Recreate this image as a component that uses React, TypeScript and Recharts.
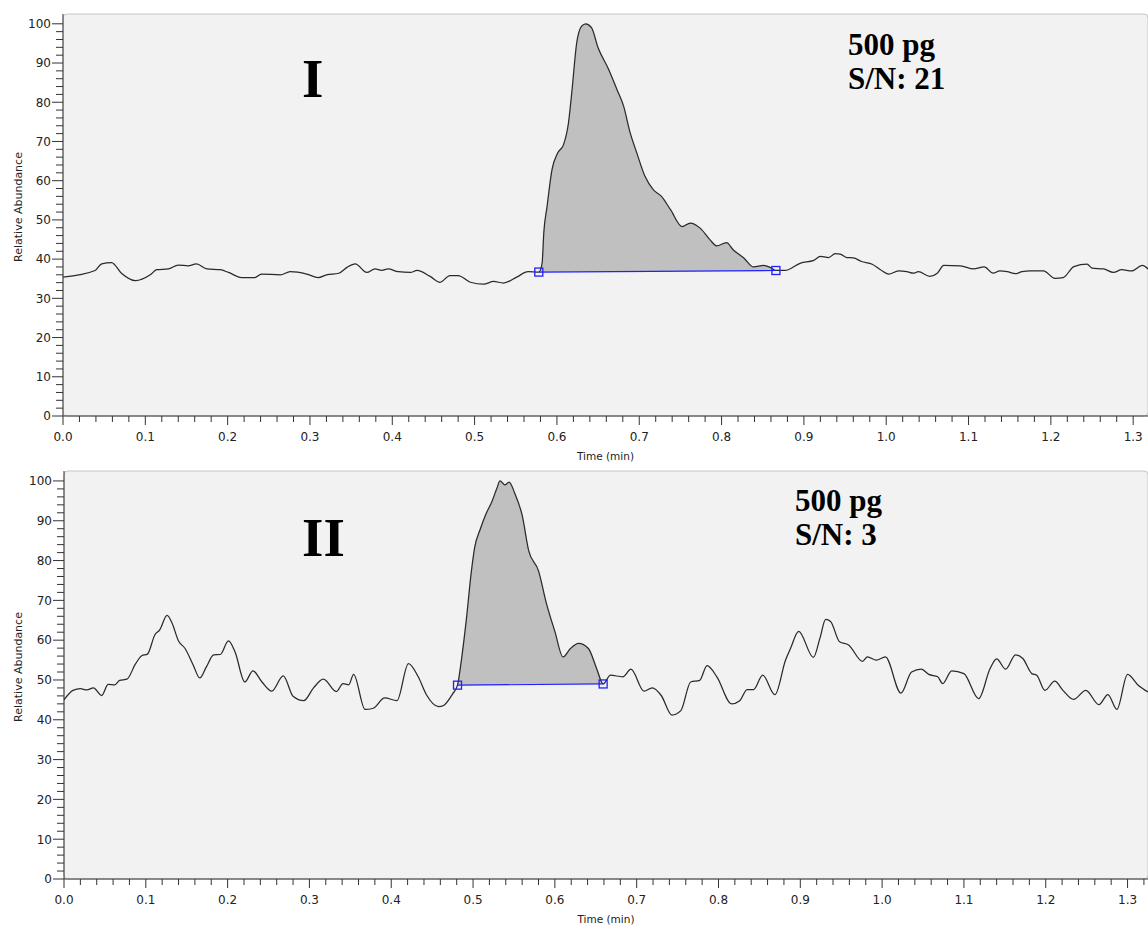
import React from "react";
import {
  ComposedChart,
  Line,
  Area,
  XAxis,
  YAxis,
  CartesianGrid,
  ReferenceArea,
} from "recharts";

// chromatogram I (time in min, relative abundance in %)
const TIME_I = [
  0, 0.039, 0.047, 0.059, 0.071, 0.088, 0.106, 0.114, 0.128, 0.14, 0.152, 0.162,
  0.175, 0.191, 0.201, 0.217, 0.233, 0.241, 0.264, 0.276, 0.296, 0.31, 0.32,
  0.335, 0.345, 0.355, 0.369, 0.379, 0.387, 0.395, 0.407, 0.422, 0.43, 0.446,
  0.458, 0.47, 0.48, 0.495, 0.511, 0.523, 0.535, 0.551, 0.565, 0.578, 0.582,
  0.584, 0.588, 0.594, 0.601, 0.608, 0.614, 0.618, 0.624, 0.63, 0.635, 0.642,
  0.65, 0.663, 0.673, 0.681, 0.689, 0.697, 0.707, 0.717, 0.727, 0.738, 0.752,
  0.762, 0.774, 0.786, 0.794, 0.806, 0.814, 0.827, 0.839, 0.851, 0.859, 0.866,
  0.877, 0.896, 0.912, 0.92, 0.93, 0.938, 0.944, 0.952, 0.96, 0.97, 0.983,
  0.993, 1.003, 1.015, 1.025, 1.033, 1.039, 1.053, 1.062, 1.07, 1.09, 1.106,
  1.119, 1.13, 1.138, 1.147, 1.157, 1.165, 1.175, 1.191, 1.205, 1.215, 1.228,
  1.244, 1.25, 1.264, 1.276, 1.286, 1.298, 1.311, 1.318,
];
const ABUNDANCE_I = [
  35.4, 37.1, 38.8, 39.1, 36.4, 34.5, 36.0, 37.3, 37.5, 38.5, 38.3, 38.8, 37.5,
  37.3, 36.6, 35.3, 35.3, 36.2, 36.0, 36.8, 36.2, 35.3, 36.0, 36.4, 37.9, 38.8,
  36.6, 37.5, 37.1, 37.5, 36.8, 36.6, 37.1, 35.6, 34.1, 35.8, 35.8, 34.1, 33.6,
  34.3, 33.9, 35.4, 36.8, 36.7, 39.0, 46.6, 53.4, 62.8, 67.1, 69.2, 74.7, 82.4,
  95.1, 99.4, 100, 99.0, 93.9, 88.3, 83.2, 79.0, 72.2, 67.1, 61.1, 57.7, 56.0,
  52.6, 48.3, 49.2, 47.9, 44.9, 43.4, 44.2, 42.4, 40.3, 38.0, 38.4, 37.9, 37.1,
  37.1, 39.0, 39.7, 40.7, 40.4, 41.4, 41.3, 40.4, 40.3, 39.4, 38.7, 37.3, 36.2,
  37.0, 36.8, 36.4, 36.8, 35.6, 36.4, 38.4, 38.3, 37.5, 38.0, 36.4, 37.0, 36.8,
  36.3, 36.8, 37.0, 37.0, 35.1, 35.3, 38.1, 38.7, 37.7, 37.5, 36.6, 37.3, 37.0,
  38.4, 37.5,
];
const PEAK_I = [0.578, 0.866];
const PEAK_BASE_I = [36.7, 37.1];

// chromatogram II
const TIME_II = [
  0, 0.011, 0.02, 0.028, 0.036, 0.046, 0.054, 0.062, 0.068, 0.077, 0.087, 0.095,
  0.102, 0.111, 0.117, 0.126, 0.132, 0.14, 0.148, 0.158, 0.166, 0.174, 0.183,
  0.191, 0.201, 0.209, 0.221, 0.231, 0.242, 0.254, 0.268, 0.28, 0.293, 0.305,
  0.317, 0.333, 0.341, 0.348, 0.354, 0.368, 0.378, 0.392, 0.407, 0.421, 0.433,
  0.443, 0.458, 0.464, 0.475, 0.481, 0.486, 0.492, 0.498, 0.502, 0.509, 0.516,
  0.523, 0.529, 0.533, 0.539, 0.544, 0.551, 0.56, 0.568, 0.58, 0.59, 0.6, 0.61,
  0.619, 0.629, 0.641, 0.651, 0.659, 0.668, 0.683, 0.693, 0.709, 0.719, 0.73,
  0.743, 0.754, 0.766, 0.777, 0.786, 0.798, 0.816, 0.826, 0.835, 0.843, 0.854,
  0.869, 0.882, 0.888, 0.898, 0.916, 0.924, 0.931, 0.937, 0.948, 0.959, 0.976,
  0.982, 0.993, 1.004, 1.023, 1.036, 1.048, 1.057, 1.068, 1.074, 1.085, 1.1,
  1.118, 1.132, 1.14, 1.151, 1.163, 1.172, 1.183, 1.189, 1.199, 1.211, 1.221,
  1.234, 1.249, 1.265, 1.276, 1.287, 1.3, 1.313, 1.325,
];
const ABUNDANCE_II = [
  45.0, 47.4, 47.8, 47.5, 48.0, 46.1, 48.9, 48.8, 49.9, 50.2, 53.9, 56.1, 56.5,
  61.3, 62.6, 66.2, 64.3, 59.8, 57.9, 53.7, 50.5, 53.3, 56.3, 56.4, 59.8, 57.1,
  49.5, 52.3, 49.5, 47.2, 51.0, 45.9, 44.8, 48.0, 50.2, 47.1, 49.1, 48.8, 51.4,
  42.6, 42.9, 45.5, 44.8, 54.1, 50.8, 46.3, 43.3, 43.6, 46.5, 48.7, 55.4, 65.6,
  77.4, 83.3, 88.0, 91.8, 94.8, 98.1, 100, 99.0, 99.7, 96.9, 91.4, 82.5, 77.4,
  69.0, 62.2, 55.8, 57.9, 59.2, 57.9, 52.9, 49.0, 51.2, 50.8, 52.7, 47.2, 48.0,
  46.1, 41.2, 42.3, 49.5, 49.9, 53.6, 50.8, 44.0, 44.8, 47.6, 47.6, 51.2, 46.3,
  55.0, 57.9, 62.2, 55.7, 60.5, 65.2, 64.7, 59.6, 58.8, 54.7, 55.8, 55.0, 55.8,
  46.7, 52.0, 52.7, 51.4, 50.8, 49.1, 52.3, 51.6, 45.3, 52.9, 55.3, 52.7, 56.3,
  55.4, 51.6, 51.2, 47.4, 49.7, 47.4, 45.1, 47.4, 43.8, 46.3, 42.6, 51.4, 48.7,
  47.0,
];
const PEAK_II = [0.481, 0.659];
const PEAK_BASE_II = [48.7, 49.0];

const X_MAJOR_TICKS = [0, 0.1, 0.2, 0.3, 0.4, 0.5, 0.6, 0.7, 0.8, 0.9, 1.0, 1.1, 1.2, 1.3];
const Y_MAJOR_TICKS = [0, 10, 20, 30, 40, 50, 60, 70, 80, 90, 100];

const AXIS_FONT = "'DejaVu Sans', Verdana, sans-serif";
const TITLE_FONT = "'Liberation Serif', 'Times New Roman', serif";
const AXIS_COLOR = "#333";
const Y_TOP = 102.5;

// minor ticks: 5 per major interval
function withMinor(majors: number[], step: number, max: number) {
  const out: number[] = [];
  majors.forEach((m) => {
    for (let k = 0; k < 5; k++) {
      const v = Number((m + k * step).toFixed(3));
      if (v <= max) out.push(v);
    }
  });
  return out;
}

function buildRows(time: number[], values: number[], peak: number[], base: number[]) {
  return time.map((t, i) => {
    const row: any = { t, v: values[i] };
    if (t >= peak[0] && t <= peak[1]) {
      const f = (t - peak[0]) / (peak[1] - peak[0]);
      row.band = [base[0] + f * (base[1] - base[0]), values[i]];
    }
    if (t === peak[0]) row.base = base[0];
    if (t === peak[1]) row.base = base[1];
    return row;
  });
}

const XTick = (props: any) => {
  const { x, y, payload } = props;
  const v = payload.value;
  const major = Math.abs(v * 10 - Math.round(v * 10)) < 1e-6;
  return (
    <g>
      <line x1={x} x2={x} y1={y} y2={y + (major ? 9 : 6)} stroke={AXIS_COLOR} />
      {major && (
        <text
          x={x}
          y={y + 25}
          textAnchor="middle"
          fontSize={12}
          fontFamily={AXIS_FONT}
          fill="#222"
        >
          {v.toFixed(1)}
        </text>
      )}
    </g>
  );
};

const YTick = (props: any) => {
  const { x, y, payload } = props;
  const v = payload.value;
  const major = v % 10 === 0;
  return (
    <g>
      <line x1={x - (major ? 11 : 7)} x2={x} y1={y} y2={y} stroke={AXIS_COLOR} />
      {major && (
        <text
          x={x - 12}
          y={y}
          dy="0.36em"
          textAnchor="end"
          fontSize={12}
          fontFamily={AXIS_FONT}
          fill="#222"
        >
          {v}
        </text>
      )}
    </g>
  );
};

const YLabel = (props: any) => {
  const vb = props.viewBox || { x: 0, y: 0, width: 0, height: 400 };
  const cx = 18;
  const cy = vb.y + vb.height / 2 - 8;
  return (
    <text
      x={cx}
      y={cy}
      transform={`rotate(-90 ${cx} ${cy})`}
      textAnchor="middle"
      dominantBaseline="central"
      fontSize={11}
      fontFamily={AXIS_FONT}
      fill="#222"
    >
      Relative Abundance
    </text>
  );
};

const BaseMarker = (props: any) => {
  const { cx, cy, index } = props;
  if (cy == null || cx == null) return <g key={`m-${index}`} />;
  return (
    <rect
      key={`m-${index}`}
      x={cx - 4}
      y={cy - 4}
      width={8}
      height={8}
      fill="none"
      stroke="#1f1fff"
      strokeWidth={1.3}
    />
  );
};

interface ChromatogramProps {
  rows: any[];
  xMax: number;
  marginTop: number;
  yAxisWidth: number;
  roman: string;
  romanPos: { left: number; top: number };
  amount: string;
  sn: string;
  notePos: { left: number; top: number };
}

function Chromatogram(p: ChromatogramProps) {
  const xTicks = withMinor(X_MAJOR_TICKS, 0.02, p.xMax);
  const yTicks = withMinor(Y_MAJOR_TICKS, 2, 100);
  return (
    <div style={{ position: "relative", width: 1148, height: 463 }}>
      <ComposedChart
        width={1148}
        height={463}
        data={p.rows}
        margin={{ top: p.marginTop, right: 0, left: 0, bottom: 1 }}
      >
        <CartesianGrid horizontal={false} vertical={false} fill="#f2f2f2" />
        <ReferenceArea
          x1={0}
          x2={p.xMax}
          y1={0}
          y2={Y_TOP}
          fill="none"
          stroke="#c6c6c6"
          radius={4}
        />
        <XAxis
          type="number"
          dataKey="t"
          domain={[0, p.xMax]}
          ticks={xTicks}
          interval={0}
          tickSize={0}
          tickMargin={0}
          tickLine={false}
          axisLine={{ stroke: AXIS_COLOR }}
          tick={XTick}
          height={46}
          allowDataOverflow
          label={{
            value: "Time (min)",
            position: "insideBottom",
            offset: 2,
            fontSize: 10.5,
            fontFamily: AXIS_FONT,
            fill: "#222",
          }}
        />
        <YAxis
          type="number"
          domain={[0, Y_TOP]}
          ticks={yTicks}
          interval={0}
          tickSize={0}
          tickMargin={0}
          tickLine={false}
          axisLine={{ stroke: AXIS_COLOR }}
          tick={YTick}
          width={p.yAxisWidth}
          allowDataOverflow
          label={<YLabel />}
        />
        <Area
          dataKey="band"
          type="monotone"
          stroke="none"
          fill="#c0c0c0"
          fillOpacity={1}
          isAnimationActive={false}
          activeDot={false}
        />
        <Line
          dataKey="v"
          type="monotone"
          stroke="#2a2a2a"
          strokeWidth={1.25}
          dot={false}
          activeDot={false}
          isAnimationActive={false}
        />
        <Line
          dataKey="base"
          type="linear"
          stroke="#1f1fff"
          strokeWidth={1.2}
          connectNulls
          dot={BaseMarker}
          activeDot={false}
          isAnimationActive={false}
        />
      </ComposedChart>
      <div
        style={{
          position: "absolute",
          left: p.romanPos.left,
          top: p.romanPos.top,
          fontFamily: TITLE_FONT,
          fontWeight: "bold",
          fontSize: 55,
          lineHeight: 1,
          color: "#000",
        }}
      >
        {p.roman}
      </div>
      <div
        style={{
          position: "absolute",
          left: p.notePos.left,
          top: p.notePos.top,
          fontFamily: TITLE_FONT,
          fontWeight: "bold",
          fontSize: 31,
          lineHeight: "34px",
          color: "#000",
          whiteSpace: "nowrap",
        }}
      >
        <div>{p.amount}</div>
        <div>{p.sn}</div>
      </div>
    </div>
  );
}

export default function App() {
  const rowsI = buildRows(TIME_I, ABUNDANCE_I, PEAK_I, PEAK_BASE_I);
  const rowsII = buildRows(TIME_II, ABUNDANCE_II, PEAK_II, PEAK_BASE_II);
  return (
    <div
      style={{
        position: "absolute",
        left: 0,
        top: 0,
        width: 1148,
        height: 926,
        background: "#fff",
        overflow: "hidden",
      }}
    >
      <Chromatogram
        rows={rowsI}
        xMax={1.318}
        marginTop={14}
        yAxisWidth={63}
        roman="I"
        romanPos={{ left: 302, top: 51 }}
        amount="500 pg"
        sn="S/N: 21"
        notePos={{ left: 848, top: 28 }}
      />
      <Chromatogram
        rows={rowsII}
        xMax={1.325}
        marginTop={8}
        yAxisWidth={64}
        roman="II"
        romanPos={{ left: 302, top: 47 }}
        amount="500 pg"
        sn="S/N: 3"
        notePos={{ left: 795, top: 21 }}
      />
    </div>
  );
}
